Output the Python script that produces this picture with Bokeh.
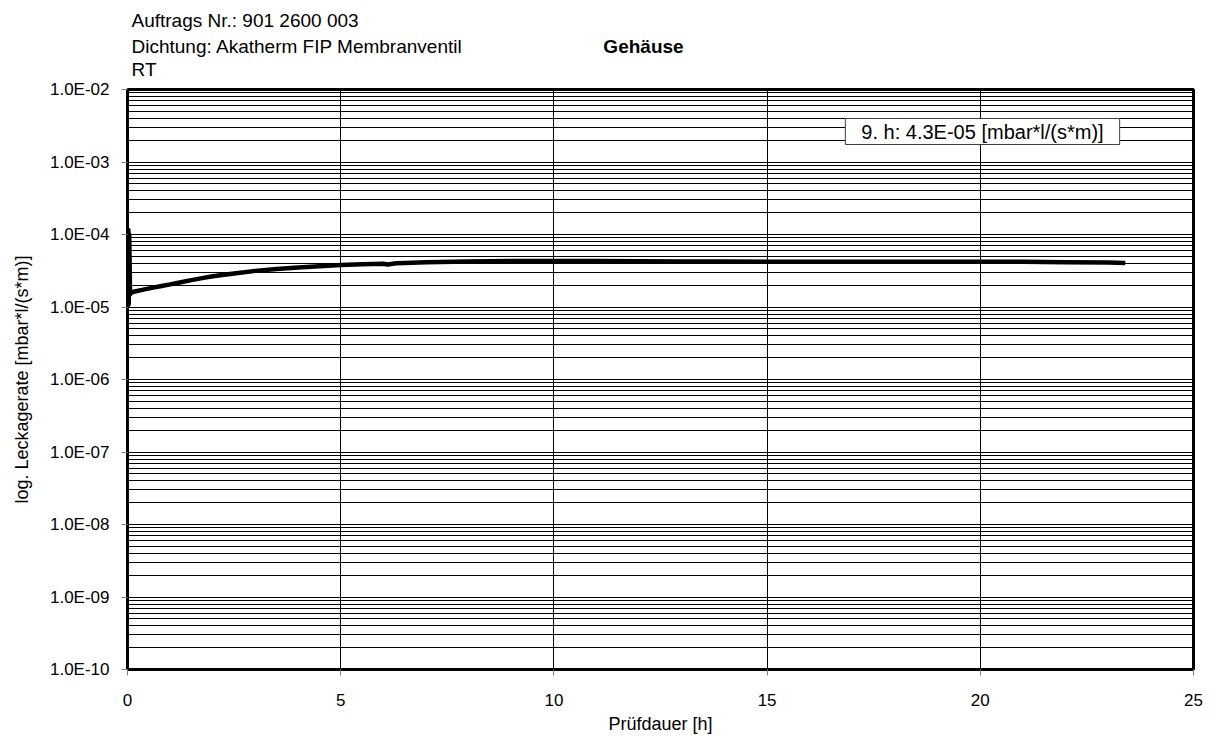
from bokeh.plotting import figure
from bokeh.layouts import column
from bokeh.models import Range1d, FixedTicker, CustomJSTickFormatter, Label
from bokeh.embed import file_html
from bokeh.resources import INLINE

# ---- data ----
title_lines = ["Auftrags Nr.: 901 2600 003", "Dichtung: Akatherm FIP Membranventil", "RT"]
series_title = "Gehäuse"
annotation_text = "9. h: 4.3E-05 [mbar*l/(s*m)]"
x_label = "Prüfdauer [h]"
y_label = "log. Leckagerate [mbar*l/(s*m)]"

x_ticks = [0, 5, 10, 15, 20, 25]
y_decades = [1e-10, 1e-9, 1e-8, 1e-7, 1e-6, 1e-5, 1e-4, 1e-3, 1e-2]
y_minor = [k * d for d in y_decades[:-1] for k in range(2, 10)]

time_h = [0.0, 0.02, 0.03, 0.04, 0.06, 0.1, 0.2, 0.4, 0.6, 0.8, 1.0, 1.25, 1.5,
          1.75, 2.0, 2.5, 3.0, 3.5, 4.0, 4.5, 5.0, 5.5, 6.0, 6.1, 6.3, 6.5, 7.0,
          8.0, 9.0, 10.0, 11.0, 12.0, 13.0, 14.0, 15.0, 16.0, 17.0, 18.0, 19.0,
          20.0, 21.0, 22.0, 23.0, 23.4]
leak = [1.0e-5, 1.15e-4, 1.1e-5, 1.0e-4, 1.5e-5, 1.6e-5, 1.65e-5, 1.75e-5, 1.85e-5,
        1.95e-5, 2.05e-5, 2.2e-5, 2.35e-5, 2.5e-5, 2.65e-5, 2.9e-5, 3.15e-5, 3.35e-5,
        3.5e-5, 3.65e-5, 3.8e-5, 3.9e-5, 3.95e-5, 3.85e-5, 4.0e-5, 4.05e-5, 4.15e-5,
        4.25e-5, 4.3e-5, 4.32e-5, 4.3e-5, 4.28e-5, 4.25e-5, 4.25e-5, 4.22e-5, 4.2e-5,
        4.2e-5, 4.2e-5, 4.2e-5, 4.2e-5, 4.2e-5, 4.15e-5, 4.1e-5, 4.05e-5]

FONT = "Liberation Sans"
W = 1211
HEADER_H = 79
FRAME_L = 127
FRAME_W = 1066
FRAME_H = 580
px_per_h = FRAME_W / 25.0
px_per_dec = FRAME_H / 8.0

# ---- main chart ----
p = figure(frame_width=FRAME_W, frame_height=FRAME_H, output_backend="svg",
           toolbar_location=None, x_range=Range1d(0, 25), y_range=Range1d(1e-10, 1e-2),
           y_axis_type="log", min_border_left=FRAME_L,
           min_border_right=W - FRAME_L - FRAME_W, min_border_top=10,
           min_border_bottom=70, background_fill_color="white", border_fill_color="white")

# ---- header (text block above the chart; frame is aligned with the chart frame) ----
hdr = figure(frame_width=FRAME_W, frame_height=HEADER_H, output_backend="svg",
             toolbar_location=None, x_range=p.x_range, y_range=Range1d(0, HEADER_H),
             x_axis_location=None, y_axis_location=None,
             min_border_left=FRAME_L, min_border_right=W - FRAME_L - FRAME_W,
             min_border_top=0, min_border_bottom=0, outline_line_color=None,
             background_fill_color="white", border_fill_color="white")
hdr.grid.visible = False
for txt, yc in zip(title_lines, [20, 46, 69]):
    hdr.add_layout(Label(x=(131 - FRAME_L) / px_per_h, y=HEADER_H - yc, text=txt,
                         text_font=FONT, text_font_size="19px", text_baseline="middle",
                         text_align="left", text_color="black"))
hdr.add_layout(Label(x=(643 - FRAME_L) / px_per_h, y=HEADER_H - 46, text=series_title,
                     text_font=FONT, text_font_size="19px", text_font_style="bold",
                     text_baseline="middle", text_align="center", text_color="black"))

p.outline_line_color = "black"
p.outline_line_width = 3

p.xaxis.ticker = FixedTicker(ticks=x_ticks)
p.yaxis.ticker = FixedTicker(ticks=y_decades, minor_ticks=y_minor)
p.yaxis.formatter = CustomJSTickFormatter(code="""
const e = Math.round(Math.log10(tick));
return "1.0E" + (e < 0 ? "-" : "+") + String(Math.abs(e)).padStart(2, "0");
""")
for ax in (p.xaxis, p.yaxis):
    ax.axis_line_color = None
    ax.major_tick_in = 0
    ax.major_tick_out = 6
    ax.major_tick_line_color = "#808080"
    ax.minor_tick_line_color = None
    ax.major_label_text_font = FONT
    ax.major_label_text_font_size = "17px"
    ax.major_label_text_color = "black"
    ax.axis_label_text_font = FONT
    ax.axis_label_text_font_size = "18px"
    ax.axis_label_text_font_style = "normal"
    ax.axis_label_text_color = "black"
p.xaxis.major_label_standoff = 18
p.yaxis.major_label_standoff = 12
p.xaxis.axis_label = x_label
p.yaxis.axis_label = y_label
p.xaxis.axis_label_standoff = 5
p.yaxis.axis_label_standoff = 15

p.xgrid.grid_line_color = "black"
p.xgrid.grid_line_width = 1
p.ygrid.grid_line_color = "black"
p.ygrid.grid_line_width = 1
p.ygrid.minor_grid_line_color = "black"
p.ygrid.minor_grid_line_width = 1

p.line(time_h, leak, line_color="black", line_width=4.5, line_join="round")

p.add_layout(Label(x=(982 - FRAME_L) / px_per_h, y=10 ** (-2 - (131 - 89) / px_per_dec),
                   text=annotation_text, text_font=FONT, text_font_size="20px",
                   text_baseline="middle", text_align="center", text_color="black",
                   background_fill_color="white", border_line_color="#404040",
                   border_line_width=1, padding=(16, 2)))

layout = column(hdr, p, spacing=0)
open("out.html", "w").write(file_html(layout, INLINE))
